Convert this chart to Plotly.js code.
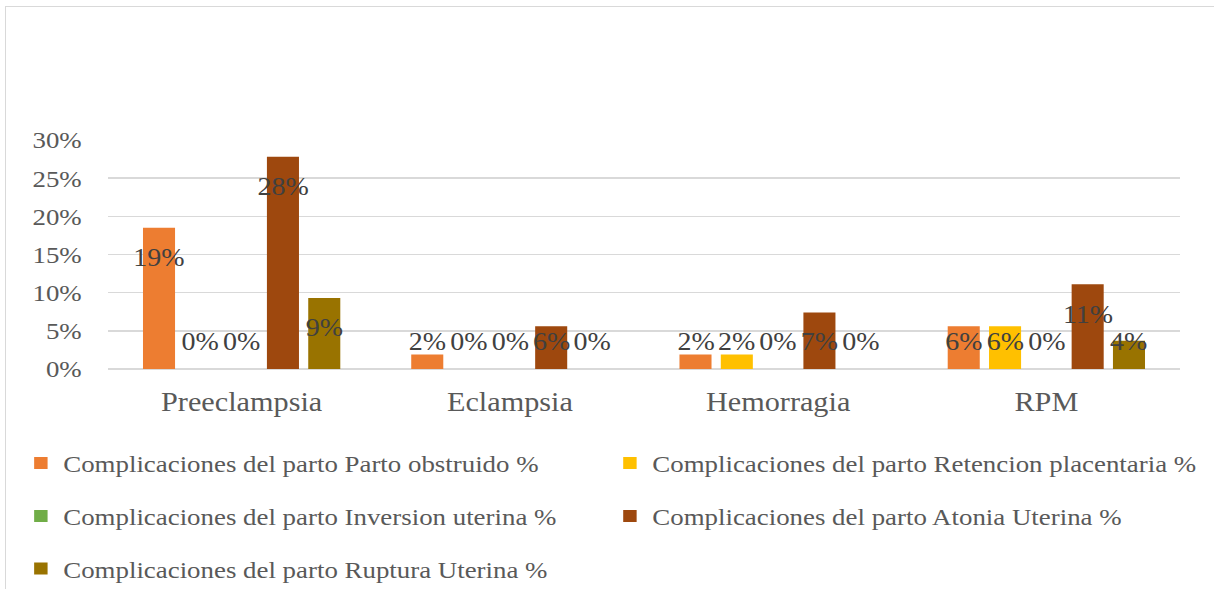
<!DOCTYPE html>
<html>
<head>
<meta charset="utf-8">
<script src="https://cdn.plot.ly/plotly-3.0.1.min.js"></script>
<style>
  html, body { margin:0; padding:0; background:#ffffff; overflow:hidden; width:1214px; height:589px; }
  #frame { position:absolute; left:5px; top:6px; width:1400px; height:800px; border:1.5px solid #d9d9d9; box-sizing:border-box; }
  #wrap { position:absolute; left:0; top:0; width:1084px; height:589px; transform:scaleX(1.12); transform-origin:0 0; }
  #chart { width:1084px; height:589px; }
</style>
</head>
<body>
<div id="frame"></div>
<div id="wrap"><div id="chart"></div></div>
<script>
// ---- Data ----
const categories = ['Preeclampsia', 'Eclampsia', 'Hemorragia', 'RPM'];
const seriesNames = [
  'Complicaciones del parto Parto obstruido %',
  'Complicaciones del parto Retencion placentaria %',
  'Complicaciones del parto Inversion uterina %',
  'Complicaciones del parto Atonia Uterina %',
  'Complicaciones del parto Ruptura Uterina %'
];
const partoObstruido       = [0.185, 0.019, 0.019, 0.056];
const retencionPlacentaria = [0.000, 0.000, 0.019, 0.056];
const inversionUterina     = [0.000, 0.000, 0.000, 0.000];
const atoniaUterina        = [0.278, 0.056, 0.074, 0.111];
const rupturaUterina       = [0.093, 0.000, 0.000, 0.037];
const seriesColors = ['#ED7D31', '#FFC000', '#70AD47', '#9E480E', '#997300'];
const yTickValues = [0, 0.05, 0.10, 0.15, 0.20, 0.25, 0.30];

const allSeries = [partoObstruido, retencionPlacentaria, inversionUterina, atoniaUterina, rupturaUterina];

// ---- Geometry (plot px, before horizontal stretch) ----
const W = 1084, H = 589;
const margin = {l: 96.4, r: 30.4, t: 140, b: 220, autoexpand: false};
const bargap = 0.23, bargroupgap = 0.224;
const plotW = W - margin.l - margin.r;
const catW = plotW / categories.length;
const slot = catW * (1 - bargap) / allSeries.length;

const fontFam = '"Liberation Serif", "Times New Roman", serif';

const legendNames = ['legend', 'legend2', 'legend3', 'legend4', 'legend5'];
const traces = allSeries.map((vals, i) => ({
  type: 'bar',
  x: categories,
  y: vals,
  name: seriesNames[i],
  marker: {color: seriesColors[i]},
  legend: legendNames[i],
  hoverinfo: 'skip'
}));

// data labels (Excel "inside end" style)
const annotations = [];
allSeries.forEach((vals, i) => {
  vals.forEach((v, j) => {
    annotations.push({
      x: j, y: Math.max(v - 0.039, 0.036), xref: 'x', yref: 'y',
      text: Math.round(v * 100) + '%',
      showarrow: false, xanchor: 'center', yanchor: 'middle',
      xshift: (i - (allSeries.length - 1) / 2) * slot,
      font: {family: fontFam, size: 25, color: '#404040'}
    });
  });
});

const legendFont = {family: fontFam, size: 24, color: '#595959'};
const colX = [-0.083, 0.466];
const rowY = [-0.4127, -0.644, -0.873];
const legendPos = [[0,0],[1,0],[0,1],[1,1],[0,2]];
const layout = {
  width: W, height: H,
  margin: margin,
  paper_bgcolor: 'rgba(0,0,0,0)',
  plot_bgcolor: 'rgba(0,0,0,0)',
  barmode: 'group',
  bargap: bargap,
  bargroupgap: bargroupgap,
  showlegend: true,
  xaxis: {
    type: 'category', automargin: false,
    showgrid: false, showline: false, zeroline: false, ticks: '',
    ticklabelstandoff: 14,
    tickfont: {family: fontFam, size: 27, color: '#595959'}
  },
  yaxis: {
    range: [0, 0.30], automargin: false,
    tickvals: yTickValues,
    tickformat: '.0%',
    showgrid: true, gridcolor: '#d9d9d9', gridwidth: 1.5,
    zeroline: true, zerolinecolor: '#d9d9d9', zerolinewidth: 1.5,
    showline: false, ticks: '',
    ticklabelstandoff: 22,
    tickfont: {family: fontFam, size: 24, color: '#595959'}
  },
  annotations: annotations
};
legendNames.forEach((ln, i) => {
  const [c, r] = legendPos[i];
  layout[ln] = {
    x: colX[c], y: rowY[r], xanchor: 'left', yanchor: 'middle',
    orientation: 'h', font: legendFont, bgcolor: 'rgba(0,0,0,0)'
  };
});

Plotly.newPlot('chart', traces, layout, {staticPlot: true, displayModeBar: false});
</script>
</body>
</html>
